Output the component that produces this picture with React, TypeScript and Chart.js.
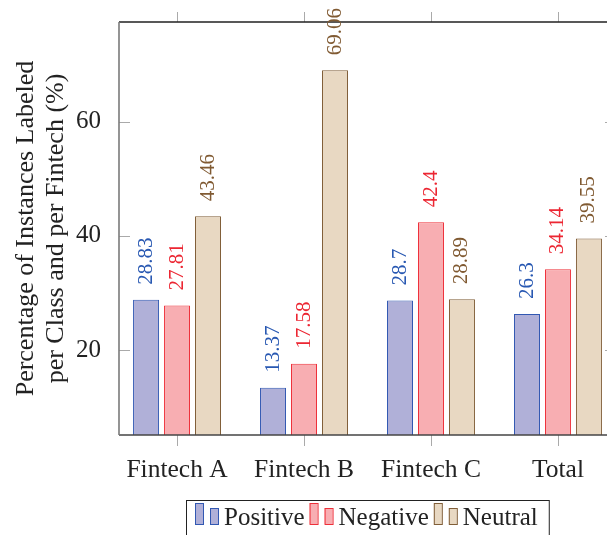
import React, { useEffect, useRef } from "react";
import { Chart, registerables } from "chart.js";

Chart.register(...registerables);

const categories = ["Fintech A", "Fintech B", "Fintech C", "Total"];
const seriesNames = ["Positive", "Negative", "Neutral"];
const positive = [28.83, 13.37, 28.7, 26.3];
const negative = [27.81, 17.58, 42.4, 34.14];
const neutral = [43.46, 69.06, 28.89, 39.55];
const yTicks = [20, 40, 60];

const fills = ["rgb(176,176,216)", "rgb(248,174,178)", "rgb(232,216,194)"];
const borders = ["rgb(50,88,178)", "rgb(238,48,58)", "rgb(128,94,56)"];
const labelColors = ["rgb(40,88,178)", "rgb(236,38,50)", "rgb(128,90,50)"];

const FONT = "'Liberation Serif', 'DejaVu Serif', serif";

const framePlugin = {
  id: "framePlugin",
  afterDatasetsDraw(chart: any) {
    const { ctx, chartArea } = chart;
    const { left, right, top, bottom } = chartArea;
    const xs = chart.scales.x;
    const ys = chart.scales.y;
    ctx.save();
    // tick marks
    ctx.strokeStyle = "#aaaaaa";
    ctx.lineWidth = 1;
    categories.forEach((_, i) => {
      const px = Math.round(xs.getPixelForValue(i)) + 0.5;
      ctx.beginPath();
      ctx.moveTo(px, bottom);
      ctx.lineTo(px, bottom + 11);
      ctx.moveTo(px, top);
      ctx.lineTo(px, top - 10);
      ctx.stroke();
    });
    yTicks.forEach((v) => {
      const py = Math.round(ys.getPixelForValue(v)) + 0.5;
      ctx.beginPath();
      ctx.moveTo(left, py);
      ctx.lineTo(left + 11, py);
      ctx.moveTo(right, py);
      ctx.lineTo(right - 11, py);
      ctx.stroke();
    });
    // frame
    ctx.lineWidth = 1.3;
    ctx.strokeStyle = "#222222";
    ctx.beginPath();
    ctx.moveTo(left, top);
    ctx.lineTo(right, top);
    ctx.lineTo(right, bottom);
    ctx.stroke();
    ctx.strokeStyle = "#444444";
    ctx.beginPath();
    ctx.moveTo(left, bottom);
    ctx.lineTo(right, bottom);
    ctx.stroke();
    ctx.strokeStyle = "#7a7a7a";
    ctx.lineWidth = 1.6;
    ctx.beginPath();
    ctx.moveTo(left, top);
    ctx.lineTo(left, bottom);
    ctx.stroke();

    // value labels
    ctx.font = `21px ${FONT}`;
    ctx.textAlign = "left";
    ctx.textBaseline = "middle";
    chart.data.datasets.forEach((ds: any, di: number) => {
      const meta = chart.getDatasetMeta(di);
      meta.data.forEach((el: any, i: number) => {
        const v = ds.data[i].y;
        ctx.save();
        ctx.translate(el.x, el.y - 15);
        ctx.rotate(-Math.PI / 2);
        ctx.fillStyle = labelColors[di];
        ctx.fillText(String(v), 0, 0);
        ctx.restore();
      });
    });

    // legend
    ctx.font = `25px ${FONT}`;
    ctx.textBaseline = "alphabetic";
    const gap = 5;
    const entryWidths = chart.data.datasets.map(
      (ds: any) => 29 + ctx.measureText(ds.label).width
    );
    const total =
      entryWidths.reduce((a: number, b: number) => a + b, 0) +
      gap * (entryWidths.length - 1);
    const boxPadL = 9;
    const boxPadR = 11;
    const cx = (left + right) / 2;
    const boxLeft = Math.round(cx - (total + boxPadL + boxPadR) / 2);
    const boxRight = boxLeft + total + boxPadL + boxPadR;
    ctx.strokeStyle = "#222222";
    ctx.lineWidth = 1;
    ctx.strokeRect(boxLeft + 0.5, 500.5, boxRight - boxLeft, 50);
    let x = boxLeft + boxPadL;
    const base = 525;
    chart.data.datasets.forEach((ds: any, di: number) => {
      ctx.fillStyle = fills[di];
      ctx.strokeStyle = borders[di];
      ctx.lineWidth = 1;
      ctx.fillRect(x, base - 22, 8, 21);
      ctx.strokeRect(x + 0.5, base - 22 + 0.5, 8, 21);
      ctx.fillRect(x + 15, base - 17, 8, 16);
      ctx.strokeRect(x + 15.5, base - 17 + 0.5, 8, 16);
      ctx.fillStyle = "#222222";
      ctx.fillText(ds.label, x + 29, base);
      x += entryWidths[di] + gap;
    });
    ctx.restore();
  },
};

export default function App() {
  const ref = useRef<HTMLCanvasElement | null>(null);
  useEffect(() => {
    if (!ref.current) return;
    const seriesValues = [positive, negative, neutral];
    const chart = new Chart(ref.current, {
      type: "bar",
      data: {
        datasets: seriesValues.map((vals, di) => ({
          label: seriesNames[di],
          data: vals.map((v, i) => ({ x: i, y: v })),
          backgroundColor: fills[di],
          borderColor: borders[di],
          borderWidth: 1,
          borderSkipped: false,
          categoryPercentage: 0.732,
          barPercentage: 0.839,
        })),
      },
      options: {
        responsive: false,
        animation: false,
        layout: { padding: { left: 0, top: 22, right: 14, bottom: 40 } },
        plugins: {
          legend: { display: false },
          tooltip: { enabled: false },
        },
        scales: {
          x: {
            type: "linear",
            min: -0.457,
            max: 3.457,
            offset: false,
            grid: { display: false, offset: false },
            border: { display: false },
            afterBuildTicks: (s: any) => {
              s.ticks = categories.map((_, i) => ({ value: i }));
            },
            afterFit: (s: any) => {
              s.height = 60;
              s.paddingLeft = 0;
              s.paddingRight = 0;
            },
            ticks: {
              padding: 12,
              color: "#222222",
              font: { family: FONT, size: 25.5 },
              maxRotation: 0,
              autoSkip: false,
              callback: (v: any) => categories[Math.round(Number(v))] ?? "",
            },
          },
          y: {
            type: "linear",
            min: 5.1,
            max: 77.5,
            grid: { display: false },
            border: { display: false },
            afterBuildTicks: (s: any) => {
              s.ticks = yTicks.map((v) => ({ value: v }));
            },
            afterFit: (s: any) => {
              s.width = 119;
              s.paddingTop = 0;
              s.paddingBottom = 0;
            },
            ticks: {
              padding: 10,
              color: "#222222",
              font: { family: FONT, size: 25 },
            },
            title: {
              display: true,
              text: ["Percentage of Instances Labeled", "per Class and per Fintech (%)"],
              color: "#222222",
              font: { family: FONT, size: 26, lineHeight: 1.16 },
              padding: { top: 11, bottom: 0 },
            },
          },
        },
      } as any,
      plugins: [framePlugin],
    });
    return () => chart.destroy();
  }, []);
  return (
    <div
      style={{
        position: "fixed",
        left: 0,
        top: 0,
        width: 607,
        height: 535,
        overflow: "hidden",
        background: "#ffffff",
      }}
    >
      <canvas ref={ref} width={630} height={535} style={{ width: 630, height: 535, display: "block" }} />
    </div>
  );
}
